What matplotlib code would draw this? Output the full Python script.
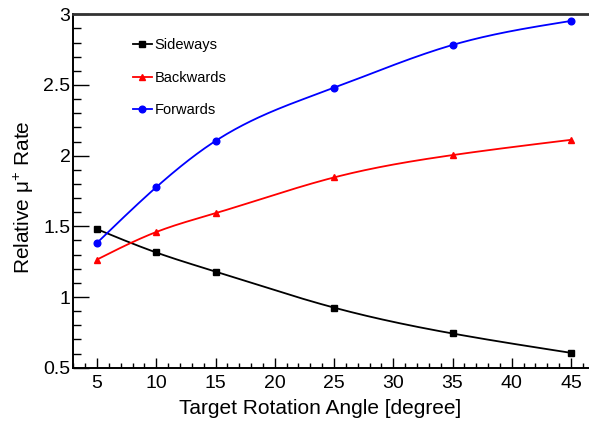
import numpy as np
import matplotlib
matplotlib.use("Agg")
import matplotlib.pyplot as plt

plt.rcParams['font.family'] = ['Liberation Sans', 'DejaVu Sans']
plt.rcParams['mathtext.fontset'] = 'custom'
plt.rcParams['mathtext.rm'] = 'Liberation Sans'
plt.rcParams['mathtext.it'] = 'Liberation Sans:italic'

angles = [5, 10, 15, 25, 35, 45]
sideways = [1.48, 1.315, 1.18, 0.925, 0.742, 0.605]
backwards = [1.265, 1.46, 1.593, 1.846, 2.004, 2.112]
forwards = [1.383, 1.777, 2.104, 2.48, 2.783, 2.953]

series_names = ["Sideways", "Backwards", "Forwards"]
series_values = [sideways, backwards, forwards]
series_colors = ["black", "#ff0000", "#0000ff"]
series_markers = ["s", "^", "o"]
series_msize = [4.3, 4.8, 4.8]

x_ticks = [5, 10, 15, 20, 25, 30, 35, 40, 45]
y_ticks = [0.5, 1, 1.5, 2, 2.5, 3]


def natural_spline(x, y, n=300):
    x = np.asarray(x, float)
    y = np.asarray(y, float)
    k = len(x)
    h = np.diff(x)
    A = np.zeros((k, k))
    b = np.zeros(k)
    A[0, 0] = 1
    A[-1, -1] = 1
    for i in range(1, k - 1):
        A[i, i - 1] = h[i - 1]
        A[i, i] = 2 * (h[i - 1] + h[i])
        A[i, i + 1] = h[i]
        b[i] = 6 * ((y[i + 1] - y[i]) / h[i] - (y[i] - y[i - 1]) / h[i - 1])
    M = np.linalg.solve(A, b)
    xs = np.linspace(x[0], x[-1], n)
    ys = np.empty_like(xs)
    for j, xv in enumerate(xs):
        i = min(np.searchsorted(x, xv, side='right') - 1, k - 2)
        t1 = x[i + 1] - xv
        t0 = xv - x[i]
        ys[j] = (M[i] * t1 ** 3 / (6 * h[i]) + M[i + 1] * t0 ** 3 / (6 * h[i])
                 + (y[i] / h[i] - M[i] * h[i] / 6) * t1
                 + (y[i + 1] / h[i] - M[i + 1] * h[i] / 6) * t0)
    return xs, ys


W, H = 589, 428
fig = plt.figure(figsize=(W / 100, H / 100), dpi=100)
px_per_unit = 11.85
ax = fig.add_axes([73.3 / W, 60.3 / H, 44 * px_per_unit / W, 353.4 / H])

handles = []
for name, vals, c, m, ms in zip(series_names, series_values, series_colors,
                                series_markers, series_msize):
    xs, ys = natural_spline(angles, vals)
    ax.plot(xs, ys, color=c, lw=1.3, zorder=2)
    ax.plot(angles, vals, linestyle='none', marker=m, color=c, ms=ms, zorder=3)
    h, = ax.plot([], [], color=c, lw=1.3, marker=m, ms=ms)
    handles.append(h)

ax.set_xlim(3, 47)
ax.set_ylim(0.5, 3)
ax.set_xticks(x_ticks)
ax.set_xticklabels([str(t) for t in x_ticks])
ax.set_yticks(y_ticks)
ax.set_yticklabels(["0.5", "1", "1.5", "2", "2.5", "3"])
ax.set_xticks(np.arange(3, 47, 1), minor=True)
ax.set_yticks(np.arange(0.5, 3.0001, 0.1), minor=True)

ax.tick_params(axis='both', which='both', direction='in', top=False, right=False,
               labelsize=14, color='black')
ax.tick_params(axis='x', which='major', length=7.5, width=1.0, pad=5)
ax.tick_params(axis='x', which='minor', length=3.8, width=1.0)
ax.tick_params(axis='y', which='major', length=11.5, width=1.0, pad=2)
ax.tick_params(axis='y', which='minor', length=5.8, width=1.0)

for s in ['left', 'bottom']:
    ax.spines[s].set_linewidth(1.4)
    ax.spines[s].set_color('black')
ax.spines['top'].set_linewidth(2.0)
ax.spines['top'].set_color('#333333')
ax.spines['right'].set_visible(False)

fig.text(320 / W, 1 - 409 / H, "Target Rotation Angle [degree]", fontsize=15,
         ha='center', va='center')
fig.text(24 / W, 1 - 197 / H, r"Relative μ$^{+}$ Rate", fontsize=15,
         ha='center', va='center', rotation=90)

leg = ax.legend(handles, series_names, loc='upper left',
                bbox_to_anchor=(132.7 / W, 1 - 38.5 / H),
                bbox_transform=fig.transFigure, frameon=False, fontsize=10.5,
                handlelength=1.3, handletextpad=0.2, labelspacing=1.25,
                borderpad=0, borderaxespad=0, numpoints=1)

fig.savefig("out.png", dpi=100)
